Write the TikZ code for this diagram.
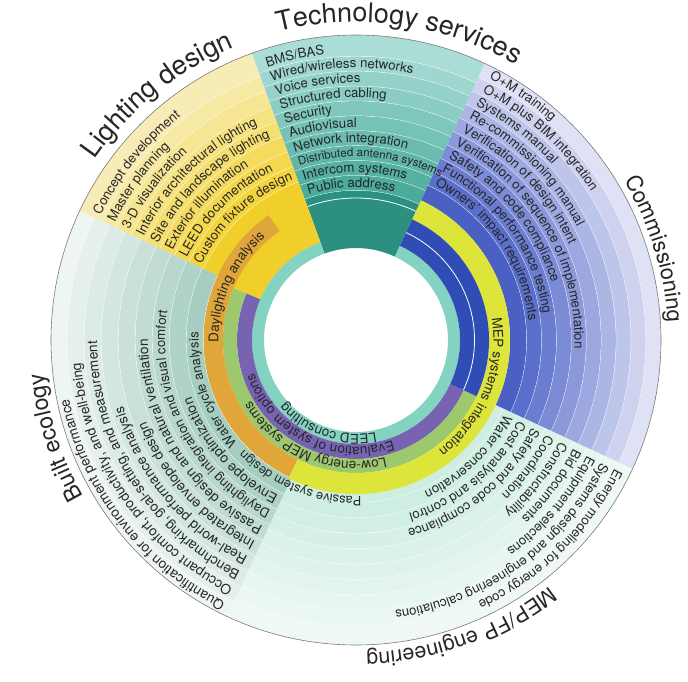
\documentclass[tikz,border=0pt]{standalone}
\usepackage{fontspec}
\setmainfont{TeX Gyre Heros}
\usetikzlibrary{decorations.text}

\definecolor{txt}{HTML}{262626}
\definecolor{tout}{HTML}{A9DDD6}
\definecolor{tin}{HTML}{4AAB9B}
\definecolor{tblock}{HTML}{2C9080}
\definecolor{cout}{HTML}{DFE1F5}
\definecolor{cin}{HTML}{5A6FCB}
\definecolor{cdeep}{HTML}{4B60C3}
\definecolor{cblock}{HTML}{2F4DB4}
\definecolor{lout}{HTML}{F7ECB5}
\definecolor{lin}{HTML}{F3D43A}
\definecolor{linner}{HTML}{F1CF2A}
\definecolor{bout}{HTML}{EEF5F3}
\definecolor{bin}{HTML}{A6CEC0}
\definecolor{mout}{HTML}{F0F8F4}
\definecolor{mepin}{HTML}{CDEEE1}
\definecolor{orng}{HTML}{E0A63A}
\definecolor{yel}{HTML}{DDE43A}
\definecolor{grn}{HTML}{9EC86E}
\definecolor{purp}{HTML}{7862B2}
\definecolor{leed}{HTML}{84D2C2}
\definecolor{rim}{HTML}{7A7A7A}

\newcommand\wring[5]{\fill[#5] (#1:#4) arc[start angle=#1,end angle=#2,radius=#4] -- (#2:#3) arc[start angle=#2,end angle=#1,radius=#3] -- cycle;}
\newcommand\sepline[3]{\draw[white,line width=0.8pt] (#1:#3) arc[start angle=#1,end angle=#2,radius=#3];}
\newcommand\itemfont{\fontsize{13.2}{15}\selectfont}
\newcommand\beitemfont{\fontsize{13.8}{15}\selectfont}
\newcommand\smallitemfont{\fontsize{11.5}{13}\selectfont}
\newcommand\ringfont{\fontsize{13.5}{16}\selectfont}
\newcommand\passfont{\fontsize{12.8}{15}\selectfont}
\newcommand\arctext[5]{\path[decorate,decoration={text along path,text color=txt,text={|#4|#5}}] (#2:#1) arc[start angle=#2,end angle=#3,radius=#1];}
\newcommand\arctitle[5]{\path[decorate,decoration={text along path,text color=txt,text align=center,text={|\fontsize{#5}{30}\selectfont|#4}}] ({#2+#3}:#1) arc[start angle={#2+#3},end angle={#2-#3},radius=#1];}

\begin{document}
\begin{tikzpicture}[x=1pt,y=1pt]
\useasboundingbox (0,0) rectangle (688,681);
\fill[white] (0,0) rectangle (688,681);
\begin{scope}[shift={(356,341)}]

% ---------- Technology services bands (65..110)
\foreach \k in {0,...,9}{
  \pgfmathsetmacro\ro{\k==0 ? 305 : 298.45-14.9*\k}
  \pgfmathsetmacro\ri{283.55-14.9*\k}
  \pgfmathtruncatemacro\p{100-11*\k}
  \colorlet{bandc}{tout!\p!tin}
  \wring{65}{110}{\ri}{\ro}{bandc}
  \sepline{65}{110}{\ri}
}
\wring{65}{110}{92}{149.45}{tblock}
\sepline{65}{110}{142}

% ---------- Commissioning bands (-25..65)
\foreach \k in {0,...,8}{
  \pgfmathsetmacro\ro{\k==0 ? 305 : 304.45-14.9*\k}
  \pgfmathsetmacro\ri{289.55-14.9*\k}
  \pgfmathtruncatemacro\p{100-12.5*\k}
  \colorlet{bandc}{cout!\p!cin}
  \wring{-25}{65}{\ri}{\ro}{bandc}
  \sepline{-25}{65}{\ri}
}
\wring{-25}{65}{154}{170.35}{cdeep}

% ---------- Lighting design bands (110..155)
\foreach \k in {0,...,7}{
  \pgfmathsetmacro\ro{\k==0 ? 305 : 296-16*\k}
  \pgfmathsetmacro\ri{280-16*\k}
  \pgfmathtruncatemacro\p{100-14*\k}
  \colorlet{bandc}{lout!\p!lin}
  \wring{110}{155}{\ri}{\ro}{bandc}
  \sepline{110}{155}{\ri}
}
\wring{110}{157}{104}{168}{linner}

% ---------- Built ecology bands (155..245)
\foreach \k in {0,...,8}{
  \pgfmathsetmacro\ro{\k==0 ? 305 : 305.5-17*\k}
  \pgfmathsetmacro\ri{288.5-17*\k}
  \pgfmathtruncatemacro\p{100-12.5*\k}
  \colorlet{bandc}{bout!\p!bin}
  \wring{155}{245}{\ri}{\ro}{bandc}
  \sepline{155}{245}{\ri}
}

% ---------- MEP/FP engineering bands (245..335)
\foreach \k in {0,...,8}{
  \pgfmathsetmacro\ro{\k==0 ? 305 : 300.7-15.4*\k}
  \pgfmathsetmacro\ri{285.3-15.4*\k}
  \pgfmathtruncatemacro\p{100-12.5*\k}
  \colorlet{bandc}{mout!\p!mepin}
  \wring{245}{335}{\ri}{\ro}{bandc}
  \sepline{245}{335}{\ri}
}
\wring{245}{335}{150}{162.1}{mepin}

% ---------- inner rings
\wring{110}{425}{92}{104}{leed}
\wring{157}{335}{104}{119}{purp}
\wring{157}{335}{119}{133}{grn}
\wring{125}{244}{133}{152.5}{orng}
\wring{244}{425}{133}{154}{yel}
\wring{335}{425}{104}{133}{cblock}
\sepline{335}{425}{118.5}

% ---------- outer rim
\draw[rim,line width=0.6pt] (0,0) circle[radius=305];

% ---------- Technology services items
\arctext{287}{108}{20}{\itemfont}{BMS/BAS}
\arctext{272.1}{108}{20}{\itemfont}{Wired/wireless networks}
\arctext{257.2}{108}{20}{\itemfont}{Voice services}
\arctext{242.3}{108}{20}{\itemfont}{Structured cabling}
\arctext{227.4}{108}{20}{\itemfont}{Security}
\arctext{212.5}{108}{20}{\itemfont}{Audiovisual}
\arctext{197.6}{108}{20}{\itemfont}{Network integration}
\arctext{183.3}{108}{20}{\smallitemfont}{Distributed antenna systems}
\arctext{167.8}{108}{20}{\itemfont}{Intercom systems}
\arctext{152.9}{108}{20}{\itemfont}{Public address}

% ---------- Commissioning items
\arctext{293}{63}{-60}{\itemfont}{O{+}M training}
\arctext{278.1}{63}{-60}{\itemfont}{O{+}M plus BIM integration}
\arctext{263.2}{63}{-60}{\itemfont}{Systems manual}
\arctext{248.3}{63}{-60}{\itemfont}{Re-commissioning manual}
\arctext{233.4}{63}{-60}{\itemfont}{Verification of design intent}
\arctext{218.5}{63}{-60}{\itemfont}{Verification of sequence of implementation}
\arctext{203.6}{63}{-60}{\itemfont}{Safety and code compliance}
\arctext{188.7}{63}{-60}{\itemfont}{Functional performance testing}
\arctext{173.8}{63}{-60}{\itemfont}{Owners' impact requirements}

% ---------- Lighting design items
\arctext{284}{154}{60}{\itemfont}{Concept development}
\arctext{268}{154}{60}{\itemfont}{Master planning}
\arctext{252}{154}{60}{\itemfont}{3-D visualization}
\arctext{236}{154}{60}{\itemfont}{Interior architectural lighting}
\arctext{220}{154}{60}{\itemfont}{Site and landscape lighting}
\arctext{204}{154}{60}{\itemfont}{Exterior illumination}
\arctext{188}{154}{60}{\itemfont}{LEED documentation}
\arctext{172}{154}{60}{\itemfont}{Custom fixture design}

% ---------- Built ecology items
\arctext{293}{243.5}{130}{\beitemfont}{Quantification for environment performance}
\arctext{276}{243.5}{130}{\beitemfont}{Occupant comfort, productivity, and well-being}
\arctext{259}{243.5}{130}{\beitemfont}{Benchmarking, goal-setting, and measurement}
\arctext{242}{243.5}{130}{\beitemfont}{Real-world performance analysis}
\arctext{225}{243.5}{130}{\beitemfont}{Integrated envelope design}
\arctext{208}{243.5}{130}{\beitemfont}{Passive design and natural ventilation}
\arctext{191}{243.5}{130}{\itemfont}{Daylighting integration and visual comfort}
\arctext{174}{243.5}{130}{\beitemfont}{Envelope optimization}
\arctext{157.5}{221}{130}{\itemfont}{Water cycle analysis}

% ---------- MEP/FP engineering items
\arctext{289}{333.5}{220}{\itemfont}{Energy modeling for energy code}
\arctext{273.6}{333.5}{220}{\itemfont}{Systems design and engineering calculations}
\arctext{258.2}{333.5}{220}{\itemfont}{Equipment selections}
\arctext{242.8}{333.5}{220}{\itemfont}{Bid documents}
\arctext{227.4}{333.5}{220}{\itemfont}{Constructability}
\arctext{212}{333.5}{220}{\itemfont}{Coordination}
\arctext{196.6}{333.5}{220}{\itemfont}{Safety and code compliance}
\arctext{181.2}{333.5}{220}{\itemfont}{Cost analysis and control}
\arctext{165.8}{333.5}{220}{\itemfont}{Water conservation}

% ---------- ring labels
\arctext{94}{282}{180}{\ringfont}{LEED consulting}
\arctext{107}{290}{170}{\ringfont}{Evaluation of system options}
\arctext{121.5}{284}{170}{\ringfont}{Low-energy MEP systems}
\arctext{137.5}{181}{100}{\ringfont}{Daylighting analysis}
\arctext{137.5}{9}{-90}{\ringfont}{MEP systems integration}
\arctext{156.5}{272}{224}{\passfont}{Passive system design}

% ---------- titles
\arctitle{318}{82}{45}{Technology services}{27}
\arctitle{317}{129}{40}{Lighting design}{27}
\arctitle{314}{198}{40}{Built ecology}{23}
\arctitle{313}{290}{45}{MEP/FP engineering}{21.5}
\arctitle{312}{17}{40}{Commissioning}{22}

\end{scope}
\end{tikzpicture}
\end{document}
